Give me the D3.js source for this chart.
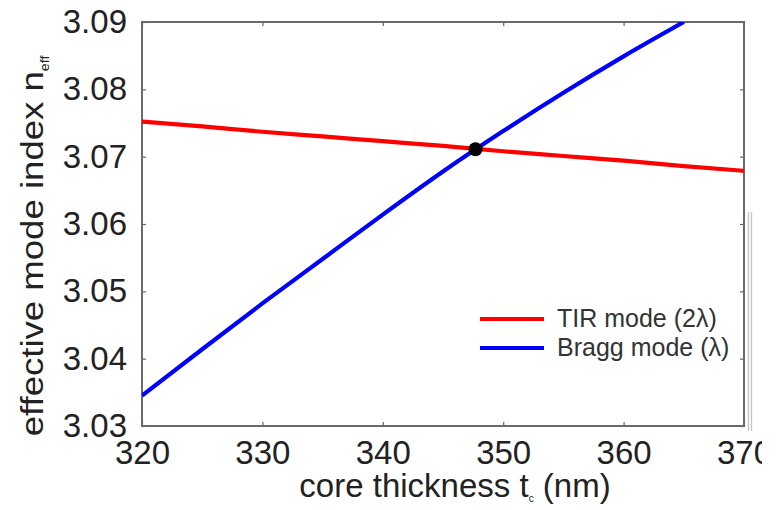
<!DOCTYPE html>
<html>
<head>
<meta charset="utf-8">
<script src="https://cdn.jsdelivr.net/npm/d3@7"></script>
<style>
  html, body { margin: 0; padding: 0; background: #fff; }
  svg { display: block; font-family: Arial, "Liberation Sans", Helvetica, sans-serif; }
</style>
</head>
<body>
<svg id="chart" width="776" height="510"></svg>
<script>
// Core thickness (nm) sample points
const thickness = [320, 325, 330, 335, 340, 345, 350, 355, 360, 365, 370];
// Effective index of the TIR mode (2λ)
const tirIndex = [3.0752, 3.0745, 3.0737, 3.0730, 3.0723, 3.0716, 3.0708, 3.0701, 3.0694, 3.0686, 3.0679];
// Effective index of the Bragg mode (λ), defined up to 365 nm
const braggThickness = [320, 325, 330, 335, 340, 345, 350, 355, 360, 365];
const braggIndex = [3.0345, 3.0414, 3.0482, 3.0548, 3.0614, 3.0678, 3.0738, 3.0795, 3.0849, 3.0900];
// Crossing point of the two modes
const crossing = { t: 347.7, n: 3.0711 };

const xTicks = [320, 330, 340, 350, 360, 370];
const yTicks = [3.03, 3.04, 3.05, 3.06, 3.07, 3.08, 3.09];

const seriesNames = ["TIR mode (2\u03BB)", "Bragg mode (\u03BB)"];
const seriesColors = ["#ff0000", "#0000ff"];

const svg = d3.select("#chart");
const plotL = 142, plotR = 744, plotT = 22, plotB = 426;

const x = d3.scaleLinear().domain([320, 370]).range([plotL, plotR]);
const y = d3.scaleLinear().domain([3.03, 3.09]).range([plotB, plotT]);

// clip paths: plot area for the curves, page edge for the last x label
const defs = svg.append("defs");
defs.append("clipPath").attr("id", "plotClip")
  .append("rect").attr("x", plotL).attr("y", plotT).attr("width", plotR - plotL).attr("height", plotB - plotT);
defs.append("clipPath").attr("id", "pageClip")
  .append("rect").attr("x", -1000).attr("y", -100).attr("width", 1762).attr("height", 400);

const tickColor = "#666";
const labelColor = "#222";

// bottom axis with labels
const gx = svg.append("g").attr("transform", `translate(0,${plotB})`)
  .attr("clip-path", "url(#pageClip)")
  .call(d3.axisBottom(x).tickValues(xTicks).tickFormat(d3.format("d"))
    .tickSizeInner(-4).tickSizeOuter(0).tickPadding(15));
// left axis with labels
const gy = svg.append("g").attr("transform", `translate(${plotL},0)`)
  .call(d3.axisLeft(y).tickValues(yTicks).tickFormat(d3.format(".2f"))
    .tickSizeInner(-4).tickSizeOuter(0).tickPadding(15));
// mirrored top and right ticks
const gt = svg.append("g").attr("transform", `translate(0,${plotT})`)
  .call(d3.axisTop(x).tickValues(xTicks).tickFormat("").tickSizeInner(-4).tickSizeOuter(0));
const gr = svg.append("g").attr("transform", `translate(${plotR},0)`)
  .call(d3.axisRight(y).tickValues(yTicks).tickFormat("").tickSizeInner(-4).tickSizeOuter(0));

[gx, gy, gt, gr].forEach(g => {
  g.select(".domain").remove();
  g.selectAll(".tick line").attr("stroke", tickColor).attr("stroke-width", 1.2);
  g.selectAll(".tick text").attr("fill", labelColor).attr("font-size", 33)
    .attr("font-family", "Arial, 'Liberation Sans', sans-serif");
});

// plot frame
svg.append("rect")
  .attr("x", plotL).attr("y", plotT).attr("width", plotR - plotL).attr("height", plotB - plotT)
  .attr("fill", "none").attr("stroke", "#6a6a6a").attr("stroke-width", 2);

// double rule on the right edge
[748.5, 751.5].forEach(px => {
  svg.append("line").attr("x1", px).attr("x2", px).attr("y1", 212).attr("y2", 431)
    .attr("stroke", "#c4c4c4").attr("stroke-width", 1.3);
});

// curves
const plot = svg.append("g").attr("clip-path", "url(#plotClip)");
const line = d3.line().x(d => x(d[0])).y(d => y(d[1])).curve(d3.curveMonotoneX);

plot.append("path")
  .datum(d3.zip(thickness, tirIndex))
  .attr("d", line).attr("fill", "none")
  .attr("stroke", seriesColors[0]).attr("stroke-width", 4.2);

plot.append("path")
  .datum(d3.zip(braggThickness, braggIndex))
  .attr("d", line).attr("fill", "none")
  .attr("stroke", seriesColors[1]).attr("stroke-width", 4.2);

// crossing marker
svg.append("circle")
  .attr("cx", x(crossing.t)).attr("cy", y(crossing.n)).attr("r", 7)
  .attr("fill", "#000");

// legend
const legend = svg.append("g");
const legendY = [319, 348];
seriesNames.forEach((name, i) => {
  legend.append("line")
    .attr("x1", 480).attr("x2", 544).attr("y1", legendY[i]).attr("y2", legendY[i])
    .attr("stroke", seriesColors[i]).attr("stroke-width", 4.2);
  legend.append("text")
    .attr("x", 557).attr("y", legendY[i] + 8)
    .attr("font-size", 25).attr("fill", "#333")
    .text(name);
});

// x axis title
const xt = svg.append("text")
  .attr("x", 455).attr("y", 497)
  .attr("text-anchor", "middle").attr("font-size", 33).attr("fill", labelColor);
xt.append("tspan").text("core thickness t");
xt.append("tspan").attr("font-size", 10).attr("dy", 5).text("c");
xt.append("tspan").attr("dy", -5).text(" (nm)");

// y axis title, drawn slightly wide along its baseline
const yt = svg.append("text")
  .attr("transform", "translate(43,246) rotate(-90) scale(1.18,1)")
  .attr("text-anchor", "middle").attr("font-size", 31).attr("fill", labelColor);
yt.append("tspan").text("effective mode index n");
yt.append("tspan").attr("font-size", 12).attr("dy", 6).text("eff");
</script>
</body>
</html>
